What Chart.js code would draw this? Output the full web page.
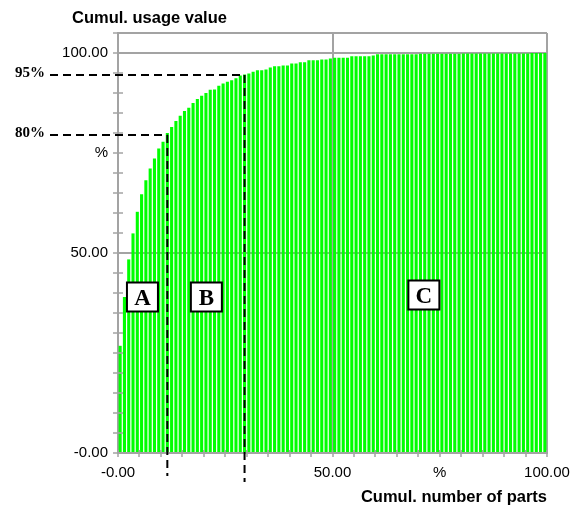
<!DOCTYPE html>
<html>
<head>
<meta charset="utf-8">
<script src="https://cdn.jsdelivr.net/npm/chart.js@4.4.1/dist/chart.umd.min.js"></script>
<style>
  html, body { margin: 0; padding: 0; background: #fff; }
</style>
</head>
<body>
<canvas id="abcChart" width="571" height="508"></canvas>
<script>
// Cumulative usage value (%) per part, parts sorted by usage value
const cumValue = [
  26.8, 39.0, 48.4, 54.9, 60.3, 64.7, 68.2, 71.1, 73.6, 76.1,
  77.8, 80.0, 81.5, 83.0, 84.3, 85.5, 86.3, 87.5, 88.5, 89.3,
  90.0, 90.8, 90.9, 91.8, 92.4, 92.8, 93.2, 93.7, 94.4, 94.6,
  94.9, 95.3, 95.7, 95.7, 95.9, 96.4, 96.7, 96.7, 96.9, 96.9,
  97.4, 97.4, 97.7, 97.7, 98.2, 98.2, 98.2, 98.4, 98.4, 98.6,
  98.8, 98.8, 98.8, 98.8, 99.2, 99.2, 99.2, 99.2, 99.2, 99.4,
  99.7, 99.7, 99.7, 99.7, 99.7, 99.7, 99.7, 99.7, 99.7, 99.7,
  99.8, 99.8, 99.8, 99.8, 99.8, 99.8, 99.8, 99.8, 99.8, 99.8,
  99.9, 99.9, 99.9, 99.9, 99.9, 99.9, 99.9, 99.9, 99.9, 99.9,
  99.9, 99.9, 99.9, 99.9, 99.9, 99.9, 100, 100, 100, 100
];
// each part sits in the middle of its own 1% slot of the x axis
const partPct = cumValue.map((v, i) => i + 0.5);

const xTickValues = [0, 50, 75, 100];
const xTickText = ['-0.00', '50.00', '%', '100.00'];
const yTickValues = [0, 50, 75, 100];
const yTickText = ['-0.00', '50.00', '%', '100.00'];

// ABC classes
const classNames = ['A', 'B', 'C'];
const classX = [5.7, 20.6, 71.3];
const classY = [39, 39, 39.5];
const cutPart = [12, 30];          // last part of class A and B
const cutLevel = [79.5, 94.5];
const cutText = ['80%', '95%'];
const cutBottom = [476, 482];

const gridGray = '#a3a3a3';
const sans = '"Liberation Sans", Arial, sans-serif';
const serif = '"Liberation Serif", "Times New Roman", serif';

const abcMarks = {
    id: 'abcMarks',
    afterDraw(chart) {
        const ctx = chart.ctx;
        const xs = chart.scales.x, ys = chart.scales.y;
        const area = chart.chartArea;
        ctx.save();

        // inner half of the tick marks
        ctx.strokeStyle = gridGray;
        ctx.lineWidth = 1.5;
        ys.ticks.forEach(t => {
            const py = ys.getPixelForValue(t.value);
            ctx.beginPath(); ctx.moveTo(area.left, py); ctx.lineTo(area.left + 5, py); ctx.stroke();
        });
        xs.ticks.forEach(t => {
            const px = xs.getPixelForValue(t.value);
            ctx.beginPath(); ctx.moveTo(px, area.bottom); ctx.lineTo(px, area.bottom - 3); ctx.stroke();
        });

        // dashed cut lines
        ctx.strokeStyle = '#000';
        ctx.lineWidth = 2;
        ctx.setLineDash([8, 5]);
        cutPart.forEach((p, i) => {
            const px = xs.getPixelForValue(partPct[p - 1]);
            const py = ys.getPixelForValue(cutLevel[i]);
            ctx.beginPath(); ctx.moveTo(50, py); ctx.lineTo(px, py); ctx.stroke();
            ctx.beginPath(); ctx.moveTo(px, py); ctx.lineTo(px, cutBottom[i]); ctx.stroke();
        });
        ctx.setLineDash([]);

        ctx.fillStyle = '#000';
        ctx.font = 'bold 15px ' + serif;
        ctx.textAlign = 'right';
        ctx.textBaseline = 'alphabetic';
        cutText.forEach((t, i) => {
            ctx.fillText(t, 45, ys.getPixelForValue(cutLevel[i]) + 2);
        });

        // class boxes
        classNames.forEach((n, i) => {
            const cx = xs.getPixelForValue(classX[i]);
            const cy = ys.getPixelForValue(classY[i]);
            ctx.fillStyle = '#fff';
            ctx.fillRect(cx - 15.5, cy - 14.5, 31, 29);
            ctx.strokeStyle = '#000';
            ctx.lineWidth = 2;
            ctx.strokeRect(cx - 15.5, cy - 14.5, 31, 29);
            ctx.fillStyle = '#000';
            ctx.font = 'bold 23px ' + serif;
            ctx.textAlign = 'center';
            ctx.textBaseline = 'alphabetic';
            ctx.fillText(n, cx, cy + 8);
        });

        // axis titles
        ctx.font = 'bold 16.5px ' + sans;
        ctx.textBaseline = 'middle';
        ctx.textAlign = 'left';
        ctx.fillText('Cumul. usage value', 72, 18);
        ctx.textAlign = 'right';
        ctx.fillText('Cumul. number of parts', area.right, 497);
        ctx.restore();
    }
};

const ctx = document.getElementById('abcChart').getContext('2d');
const abcChart = new Chart(ctx, {
    type: 'bar',
    data: {
        datasets: [{
            data: partPct.map((p, i) => ({ x: p, y: cumValue[i] })),
            backgroundColor: '#00ff00',
            borderWidth: 0,
            barPercentage: 0.72,
            categoryPercentage: 1
        }]
    },
    options: {
        responsive: false,
        animation: false,
        layout: { padding: { left: 0, top: 33, right: 24, bottom: 0 } },
        plugins: { legend: { display: false }, tooltip: { enabled: false } },
        scales: {
            x: {
                type: 'linear',
                min: 0, max: 100,
                offset: false,
                z: 1,
                afterFit: s => { s.height = 55; s.paddingLeft = 0; s.paddingRight = 0; },
                border: { color: gridGray, width: 2 },
                grid: {
                    offset: false,
                    color: c => (c.tick && (c.tick.value === 50 || c.tick.value === 100)) ? gridGray : 'transparent',
                    lineWidth: 2,
                    tickColor: gridGray,
                    tickWidth: 1.5,
                    tickLength: 4
                },
                ticks: {
                    stepSize: 5,
                    autoSkip: false,
                    maxRotation: 0,
                    minRotation: 0,
                    padding: 7,
                    color: '#000',
                    font: { family: sans, size: 15 },
                    callback: v => { const k = xTickValues.indexOf(v); return k < 0 ? '' : xTickText[k]; }
                }
            },
            y: {
                min: 0, max: 105,
                z: 1,
                afterFit: s => { s.width = 118; s.paddingTop = 0; s.paddingBottom = 0; },
                border: { color: gridGray, width: 2 },
                grid: {
                    color: c => (c.tick && [50, 100, 105].includes(c.tick.value)) ? gridGray : 'transparent',
                    lineWidth: 2,
                    tickColor: gridGray,
                    tickWidth: 1.5,
                    tickLength: 5
                },
                ticks: {
                    stepSize: 5,
                    autoSkip: false,
                    padding: 5,
                    color: '#000',
                    font: { family: sans, size: 15 },
                    callback: v => { const k = yTickValues.indexOf(v); return k < 0 ? '' : yTickText[k]; }
                }
            }
        }
    },
    plugins: [abcMarks]
});
</script>
</body>
</html>
